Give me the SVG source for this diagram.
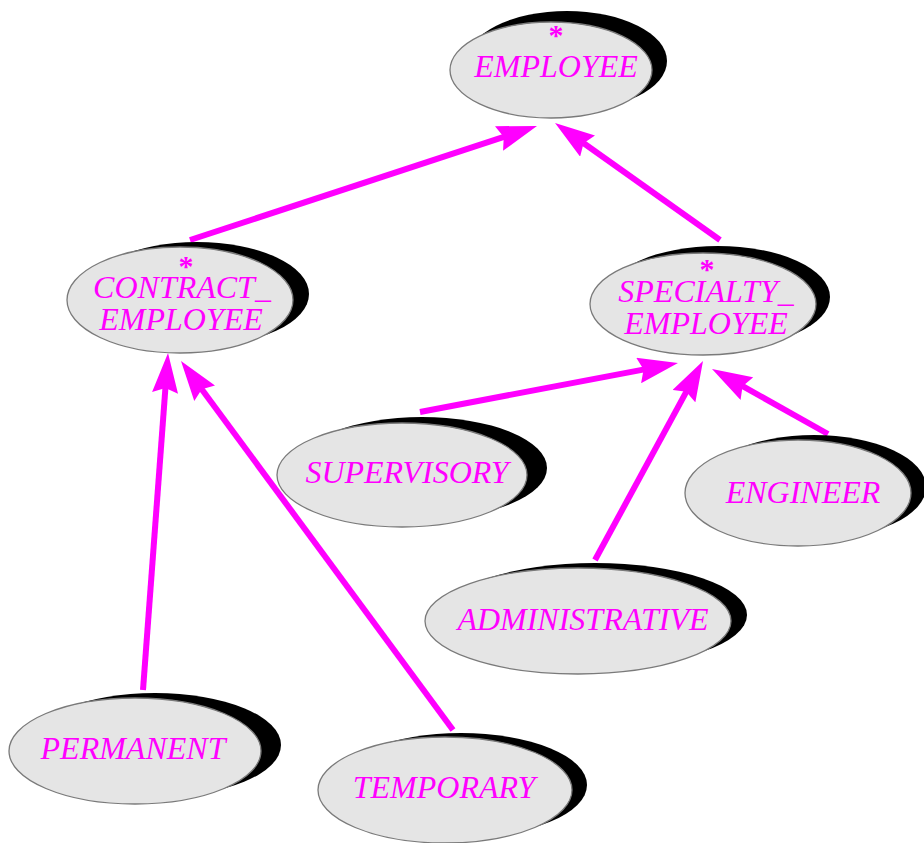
<svg xmlns="http://www.w3.org/2000/svg" width="924" height="843" viewBox="0 0 924 843">
<style>
.sh{fill:#000}
.bd{fill:#e5e5e5;stroke:#7a7a7a;stroke-width:1.3}
.t{font-family:"Liberation Serif","Times New Roman",serif;font-style:italic;font-size:32px;fill:#ff00ff;text-anchor:middle}
.ast{font-size:30px;font-style:normal;font-weight:bold}
.c{stroke:#ff00ff;stroke-width:6;fill:none;marker-end:url(#ah)}
</style>
<defs>
<marker id="ah" viewBox="0 0 40 26" refX="10" refY="13" markerWidth="40" markerHeight="26" markerUnits="userSpaceOnUse" orient="auto">
<path d="M0,0 L40,13 L0,26 L5,13 z" fill="#ff00ff"/>
</marker>
</defs>
<rect width="924" height="843" fill="#fff"/>
<g id="connectors">
<line class="c" x1="190" y1="240" x2="508.5" y2="135.4"/>
<line class="c" x1="720" y1="240" x2="579.5" y2="140.3"/>
<line class="c" x1="143" y1="690" x2="165.8" y2="382.9"/>
<line class="c" x1="453" y1="730" x2="198.8" y2="385.2"/>
<line class="c" x1="420" y1="412" x2="648.5" y2="368.6"/>
<line class="c" x1="595" y1="560" x2="688.7" y2="387.4"/>
<line class="c" x1="828" y1="434" x2="738.2" y2="383.7"/>
</g>
<g id="employee">
<ellipse class="sh" cx="567" cy="61" rx="100" ry="50"/>
<ellipse class="bd" cx="551" cy="70" rx="101" ry="48"/>
<text class="t"><tspan class="ast" x="556" y="45">*</tspan><tspan x="556" y="77">EMPLOYEE</tspan></text>
</g>
<g id="contract_employee">
<ellipse class="sh" cx="197" cy="294" rx="112" ry="52"/>
<ellipse class="bd" cx="180" cy="300" rx="113" ry="53"/>
<text class="t"><tspan class="ast" x="186" y="276">*</tspan><tspan x="182" y="298">CONTRACT_</tspan><tspan x="181" y="330">EMPLOYEE</tspan></text>
</g>
<g id="specialty_employee">
<ellipse class="sh" cx="718" cy="297" rx="112" ry="51"/>
<ellipse class="bd" cx="703" cy="304" rx="113" ry="51"/>
<text class="t"><tspan class="ast" x="707" y="279">*</tspan><tspan x="706" y="302">SPECIALTY_</tspan><tspan x="706" y="334">EMPLOYEE</tspan></text>
</g>
<g id="supervisory">
<ellipse class="sh" cx="422" cy="468" rx="125" ry="51"/>
<ellipse class="bd" cx="402" cy="475" rx="125" ry="52"/>
<text class="t" x="407" y="483">SUPERVISORY</text>
</g>
<g id="engineer">
<ellipse class="sh" cx="814" cy="487" rx="112" ry="52"/>
<ellipse class="bd" cx="798" cy="493" rx="113" ry="53"/>
<text class="t" x="803" y="503">ENGINEER</text>
</g>
<g id="administrative">
<ellipse class="sh" cx="595" cy="615" rx="152" ry="52"/>
<ellipse class="bd" cx="578" cy="621" rx="153" ry="53"/>
<text class="t" x="583" y="630">ADMINISTRATIVE</text>
</g>
<g id="permanent">
<ellipse class="sh" cx="155" cy="745" rx="126" ry="52"/>
<ellipse class="bd" cx="135" cy="751" rx="126" ry="53"/>
<text class="t" x="133" y="759">PERMANENT</text>
</g>
<g id="temporary">
<ellipse class="sh" cx="461" cy="785" rx="126" ry="52"/>
<ellipse class="bd" cx="445" cy="790" rx="127" ry="53"/>
<text class="t" x="444" y="798">TEMPORARY</text>
</g>
</svg>
